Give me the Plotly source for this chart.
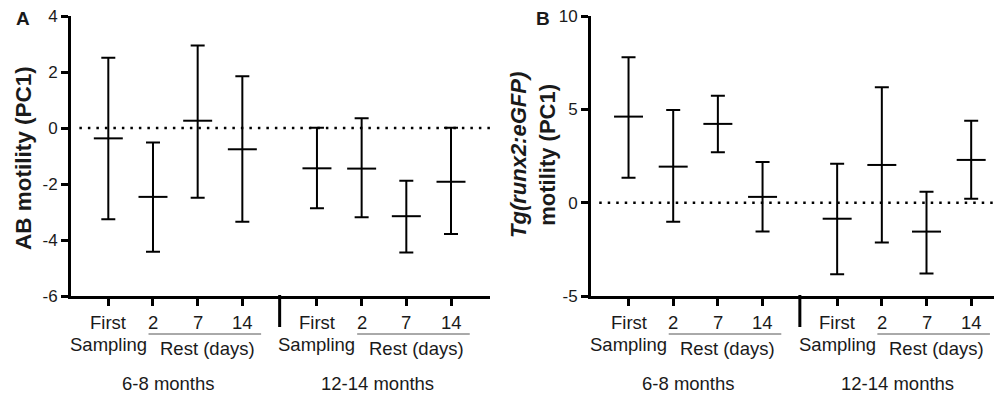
import plotly.graph_objects as go

# ---------------- data ----------------
categories = ["First Sampling", "2", "7", "14"]
age_groups = ["6-8 months", "12-14 months"]

a_mean = [-0.37, -2.46, 0.26, -0.76, -1.44, -1.45, -3.15, -1.92]
a_upper = [2.51, -0.52, 2.95, 1.85, 0.01, 0.35, -1.88, 0.01]
a_lower = [-3.26, -4.42, -2.49, -3.35, -2.87, -3.19, -4.45, -3.79]

b_mean = [4.61, 1.93, 4.22, 0.31, -0.86, 2.02, -1.55, 2.29]
b_upper = [7.79, 4.97, 5.73, 2.18, 2.09, 6.18, 0.59, 4.39]
b_lower = [1.34, -1.02, 2.70, -1.55, -3.84, -2.14, -3.80, 0.21]

a_ticks = [-6, -4, -2, 0, 2, 4]
b_ticks = [-5, 0, 5, 10]

# ---------------- layout helpers ----------------
OFF = 8                      # default page (body) margin of the html page
W, H = 1002 - OFF, 398 - OFF
FONT = "Liberation Sans, Arial, sans-serif"
TXT = "#1a1a1a"
group_gap = 4.67
group_starts = [0, group_gap]
xpos = [g + i for g in group_starts for i in range(len(categories))]


def px(X):
    return (X - OFF) / W


def py(Y):
    return 1 - (Y - OFF) / H


def ann(**kw):
    base = dict(showarrow=False, xanchor="center", yanchor="middle")
    base.update(kw)
    return base


fig = go.Figure()

panels = [
    dict(x="x", y="y", mean=a_mean, up=a_upper, lo=a_lower),
    dict(x="x2", y="y2", mean=b_mean, up=b_upper, lo=b_lower),
]
for p in panels:
    fig.add_trace(go.Scatter(
        x=xpos, y=p["mean"], xaxis=p["x"], yaxis=p["y"], mode="markers",
        marker=dict(symbol="line-ew", size=20.7, color="black",
                    line=dict(color="black", width=2)),
        error_y=dict(type="data", symmetric=False,
                     array=[u - m for u, m in zip(p["up"], p["mean"])],
                     arrayminus=[m - l for m, l in zip(p["mean"], p["lo"])],
                     color="black", thickness=2, width=7),
        showlegend=False, hoverinfo="skip", cliponaxis=False,
    ))

xcommon = dict(tickvals=xpos, ticktext=[""] * len(xpos), ticks="outside",
               ticklen=7, tickwidth=2.5, tickcolor="black", showline=True,
               linewidth=3, linecolor="black", showgrid=False, zeroline=False,
               fixedrange=True, automargin=False)
ycommon = dict(ticks="outside", ticklen=7, tickwidth=2.5, tickcolor="black",
               showline=True, linewidth=3, linecolor="black", showgrid=False,
               zeroline=False, fixedrange=True, automargin=False,
               ticklabeloverflow="allow",
               tickfont=dict(family=FONT, size=17, color=TXT))

ydom = [py(296), py(16)]
fig.update_layout(
    width=W, height=H, margin=dict(l=0, r=0, t=0, b=0, pad=0, autoexpand=False),
    paper_bgcolor="white", plot_bgcolor="white",
    font=dict(family=FONT, color=TXT),
    xaxis=dict(domain=[px(71), px(490)], range=[-0.835, 8.543], anchor="y", **xcommon),
    yaxis=dict(domain=ydom, range=[-6, 4], tickvals=a_ticks,
               ticktext=[str(v) for v in a_ticks], anchor="x", **ycommon),
    xaxis2=dict(domain=[px(591), 1.0], range=[-0.84, 8.36], anchor="y2", **xcommon),
    yaxis2=dict(domain=ydom, range=[-5, 10], tickvals=b_ticks,
                ticktext=[str(v) for v in b_ticks], anchor="x2", **ycommon),
)

shapes = []
annotations = []
LBL = 18.5
for xr, xd in [("x", "x domain"), ("x2", "x2 domain")]:
    yr = "y" if xr == "x" else "y2"
    # dotted zero line
    shapes.append(dict(type="line", xref=xd, yref=yr, x0=0.02, x1=1, y0=0, y1=0,
                       line=dict(color="black", width=2.5, dash="2.5px,6px")))
    # group separator
    sep = (group_starts[0] + len(categories) - 1 + group_starts[1]) / 2
    shapes.append(dict(type="line", xref=xr, yref="paper", x0=sep, x1=sep,
                       y0=py(295), y1=py(327), line=dict(color="black", width=3)))
    for gi, g in enumerate(group_starts):
        f = dict(size=LBL, color=TXT)
        annotations.append(ann(xref=xr, yref="paper", x=g, y=py(322), text="First", font=f))
        annotations.append(ann(xref=xr, yref="paper", x=g, y=py(344), text="Sampling", font=f))
        for i, c in enumerate(categories[1:], start=1):
            annotations.append(ann(xref=xr, yref="paper", x=g + i, y=py(322), text=c, font=f))
        shapes.append(dict(type="line", xref=xr, yref="paper", x0=g + 0.9, x1=g + 3.42,
                           y0=py(334), y1=py(334), line=dict(color="#555", width=1)))
        annotations.append(ann(xref=xr, yref="paper", x=g + 2.22, y=py(348),
                               text="Rest (days)", font=f))
        annotations.append(ann(xref=xr, yref="paper", x=g + 1.35, y=py(383),
                               text=age_groups[gi], font=f))

# axis titles
annotations.append(ann(xref="paper", yref="paper", x=px(23), y=py(158),
                       text="<b>AB motility (PC1)</b>", textangle=-90,
                       font=dict(size=22.5, color=TXT)))
annotations.append(ann(xref="paper", yref="paper", x=px(533), y=py(155),
                       text="<b><i>Tg(runx2:eGFP)</i></b><br><b>motility (PC1)</b>",
                       textangle=-90, font=dict(size=22, color=TXT)))
# panel letters
annotations.append(ann(xref="paper", yref="paper", x=px(23), y=py(18.5), text="<b>A</b>",
                       font=dict(size=19, color=TXT)))
annotations.append(ann(xref="paper", yref="paper", x=px(543), y=py(18.5), text="<b>B</b>",
                       font=dict(size=19, color=TXT)))

fig.update_layout(shapes=shapes, annotations=annotations)
fig.write_html("out.html")
